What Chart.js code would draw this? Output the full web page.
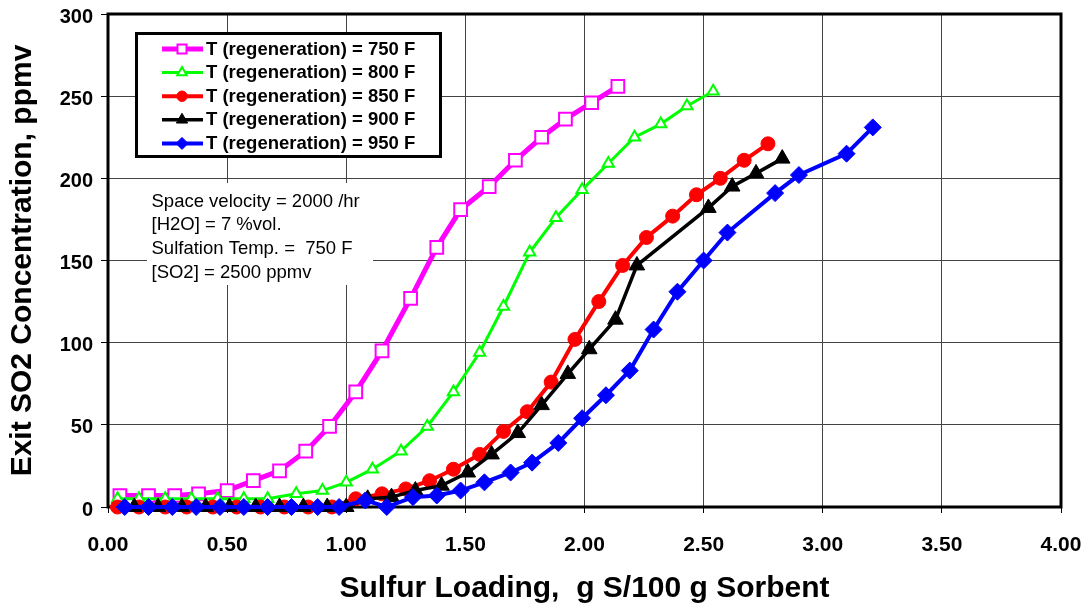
<!DOCTYPE html>
<html><head><meta charset="utf-8">
<script src="https://cdn.jsdelivr.net/npm/chart.js@4.4.1/dist/chart.umd.min.js"></script>
<style>html,body{margin:0;padding:0;background:#fff;} #wrap{width:1086px;height:612px;position:relative;}</style>
</head><body><div id="wrap"><canvas id="c" width="1086" height="612"></canvas></div>
<script>
// ---- data ----
const x750 = [0.05,0.17,0.28,0.38,0.50,0.61,0.72,0.83,0.93,1.04,1.15,1.27,1.38,1.48,1.60,1.71,1.82,1.92,2.03,2.14];
const y750 = [7,7,7,8,10,16,22,34,49,70,95,127,158,181,195,211,225,236,246,256];

const x800 = [0.04,0.13,0.24,0.35,0.46,0.57,0.67,0.79,0.90,1.00,1.11,1.23,1.34,1.45,1.56,1.66,1.77,1.88,1.99,2.10,2.21,2.32,2.43,2.54];
const y800 = [5,5,5,5,5,5,5,8,10,15,23,34,49,70,94,122,155,176,193,209,225,233,244,253];

const x850 = [0.04,0.13,0.24,0.33,0.44,0.54,0.64,0.74,0.84,0.94,1.04,1.15,1.25,1.35,1.45,1.56,1.66,1.76,1.86,1.96,2.06,2.16,2.26,2.37,2.47,2.57,2.67,2.77];
const y850 = [0,0,0,0,0,0,0,0,0,0,5,8,11,16,23,32,46,58,76,102,125,147,164,177,190,200,211,221];

const x900 = [0.11,0.21,0.31,0.41,0.51,0.62,0.72,0.82,0.92,1.00,1.09,1.19,1.29,1.40,1.51,1.61,1.72,1.82,1.93,2.02,2.13,2.22,2.52,2.62,2.72,2.83];
const y900 = [0,0,0,0,0,0,0,0,0,0,5,6,10,13,21,32,45,62,81,96,114,147,182,195,203,212];

const x950 = [0.07,0.17,0.27,0.37,0.47,0.57,0.67,0.77,0.88,0.97,1.08,1.17,1.28,1.38,1.48,1.58,1.69,1.78,1.89,1.99,2.09,2.19,2.29,2.39,2.50,2.60,2.80,2.90,3.10,3.21];
const y950 = [0,0,0,0,0,0,0,0,0,0,4,0,6,7,10,15,21,27,39,54,68,83,108,131,150,167,191,202,215,231];

const seriesLabels = ['T (regeneration) = 750 F','T (regeneration) = 800 F','T (regeneration) = 850 F','T (regeneration) = 900 F','T (regeneration) = 950 F'];
const xTickValues = [0,0.5,1,1.5,2,2.5,3,3.5,4];
const yTickValues = [0,50,100,150,200,250,300];
const noteLines = ['Space velocity = 2000 /hr','[H2O] = 7 %vol.','Sulfation Temp. =  750 F','[SO2] = 2500 ppmv'];
const xTitle = 'Sulfur Loading,  g S/100 g Sorbent';
const yTitle = 'Exit SO2 Concentration, ppmv';

// ---- styles ----
const styles = [
  {color:'#FF00FF', lw:5, ps:'rect', r:9, bw:2, fill:'#FFFFFF', lr:6.4},
  {color:'#00FF00', lw:3, ps:'triangle', r:6.5, bw:2, fill:'#FFFFFF', lr:5.5},
  {color:'#FF0000', lw:4, ps:'circle', r:7, bw:1, fill:'#FF0000', lr:5.2},
  {color:'#000000', lw:3.5, ps:'triangle', r:9, bw:1, fill:'#000000', lr:6.5},
  {color:'#0000FF', lw:4, ps:'rectRot', r:8.5, bw:1, fill:'#0000FF', lr:6}
];
const xs = [x750,x800,x850,x900,x950];
const ys = [y750,y800,y850,y900,y950];
const pts = (a,b) => a.map((v,i)=>({x:v, y:b[i]}));

const datasets = styles.map((s,i)=>({
  label: seriesLabels[i],
  data: pts(xs[i], ys[i]),
  showLine: true, tension: 0, fill: false, clip: false,
  borderColor: s.color, borderWidth: s.lw,
  pointStyle: s.ps, pointRadius: s.r, pointBorderWidth: s.bw,
  pointBorderColor: s.color, pointBackgroundColor: s.fill,
  order: 5 - i
}));

function drawMarker(ctx, style, x, y, r, fill, stroke, bw){
  ctx.beginPath();
  if (style === 'circle') { ctx.arc(x,y,r,0,Math.PI*2); }
  else if (style === 'rect') { const s = Math.SQRT1_2*r; ctx.rect(x-s,y-s,2*s,2*s); }
  else if (style === 'rectRot') { ctx.moveTo(x-r,y); ctx.lineTo(x,y-r); ctx.lineTo(x+r,y); ctx.lineTo(x,y+r); ctx.closePath(); }
  else if (style === 'triangle') {
    ctx.moveTo(x, y-r);
    ctx.lineTo(x+Math.sin(2*Math.PI/3)*r, y+0.5*r);
    ctx.lineTo(x-Math.sin(2*Math.PI/3)*r, y+0.5*r);
    ctx.closePath();
  }
  ctx.fillStyle = fill; ctx.fill();
  ctx.lineWidth = bw; ctx.strokeStyle = stroke; ctx.stroke();
}

const decor = {
  id: 'decor',
  beforeDatasetsDraw(chart){
    const ctx = chart.ctx, a = chart.chartArea;
    ctx.save();
    // annotation box
    ctx.fillStyle = '#fff';
    ctx.fillRect(147,183,226,102);
    ctx.fillStyle = '#000';
    ctx.font = '18.5px "Liberation Sans", Arial, sans-serif';
    ctx.textBaseline = 'middle'; ctx.textAlign = 'left';
    const ny = [201.5,225,249,273];
    noteLines.forEach((t,i)=>ctx.fillText(t,151.5,ny[i]));
    // legend box
    ctx.fillStyle = '#fff';
    ctx.fillRect(136.5,33.5,304,123);
    ctx.lineWidth = 3; ctx.strokeStyle = '#000';
    ctx.strokeRect(136.5,33.5,304,123);
    ctx.font = 'bold 18.5px "Liberation Sans", Arial, sans-serif';
    styles.forEach((s,i)=>{
      const yy = 49 + i*23.6;
      ctx.beginPath(); ctx.moveTo(162,yy); ctx.lineTo(203,yy);
      ctx.lineWidth = s.lw; ctx.strokeStyle = s.color; ctx.stroke();
      drawMarker(ctx, s.ps, 182, yy, s.lr, s.fill, s.color, s.bw);
      ctx.fillStyle = '#000'; ctx.textBaseline = 'middle';
      ctx.fillText(seriesLabels[i], 206, yy+0.5);
    });
    // plot frame
    ctx.lineWidth = 3; ctx.strokeStyle = '#000';
    ctx.strokeRect(a.left, a.top, a.right-a.left, a.bottom-a.top);
    ctx.restore();
  }
};

Chart.defaults.font.family = '"Liberation Sans", Arial, sans-serif';
Chart.defaults.color = '#000';

new Chart(document.getElementById('c'), {
  type: 'scatter',
  data: { datasets },
  plugins: [decor],
  options: {
    responsive: false, animation: false, devicePixelRatio: 1, events: [],
    layout: { padding: { top: 14, right: 25, left: 0, bottom: 0 } },
    plugins: { legend: { display: false }, tooltip: { enabled: false } },
    scales: {
      x: {
        type: 'linear', position: 'bottom', min: 0, max: 4,
        afterBuildTicks: s => { s.ticks = xTickValues.map(v=>({value:v})); },
        afterFit: s => { s.height = 105; s.paddingLeft = 0; s.paddingRight = 0; },
        ticks: { font: { size: 21, weight: 'bold' }, color: '#000', padding: 20, maxRotation: 0, autoSkip: false,
                 callback: v => Number(v).toFixed(2) },
        grid: { color: '#444', lineWidth: 1, tickLength: 6, tickColor: '#000', tickWidth: 1 },
        border: { display: false },
        title: { display: true, text: xTitle, color: '#000', font: { size: 30, weight: 'bold' }, padding: { top: 0, bottom: 5 } }
      },
      y: {
        type: 'linear', position: 'left', min: 0, max: 300,
        afterBuildTicks: s => { s.ticks = yTickValues.map(v=>({value:v})); },
        afterFit: s => { s.width = 108; s.paddingTop = 0; s.paddingBottom = 0; },
        ticks: { font: { size: 20, weight: 'bold' }, color: '#000', padding: 8, labelOffset: 3,
                 callback: v => String(v) },
        grid: { color: '#444', lineWidth: 1, tickLength: 7, tickColor: '#000', tickWidth: 1 },
        border: { display: false },
        title: { display: true, text: yTitle, color: '#000', font: { size: 30, weight: 'bold' }, padding: { top: 5, bottom: 0 } }
      }
    }
  }
});
</script>
</body></html>
